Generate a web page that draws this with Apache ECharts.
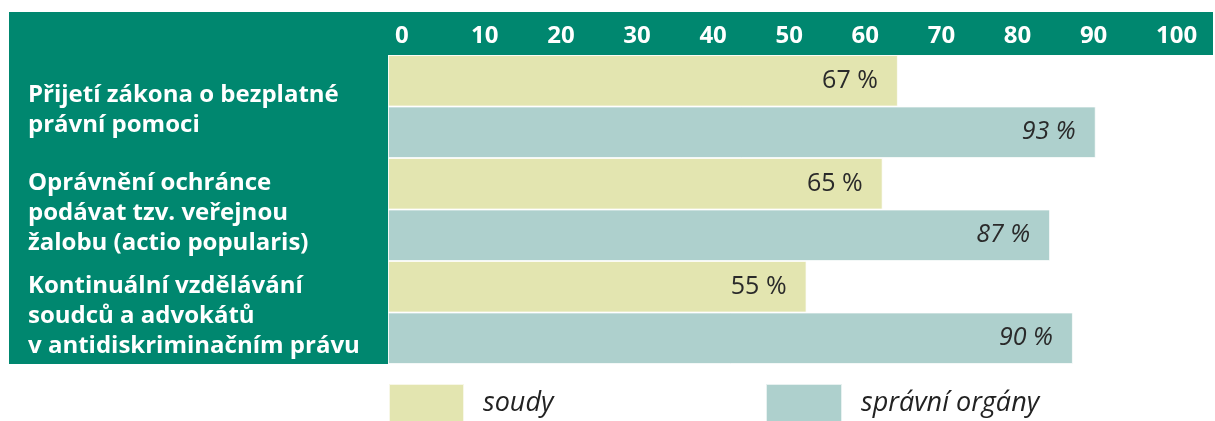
<!DOCTYPE html>
<html>
<head>
<meta charset="utf-8">
<script src="https://cdn.jsdelivr.net/npm/echarts@6/dist/echarts.min.js"></script>
<style>html,body{margin:0;padding:0;background:#fff}#c{width:1215px;height:421px}</style>
</head>
<body>
<div id="c"></div>
<script>
const categories = [
  'Přijetí zákona o bezplatné\nprávní pomoci',
  'Oprávnění ochránce\npodávat tzv. veřejnou\nžalobu (actio popularis)',
  'Kontinuální vzdělávání\nsoudců a advokátů\nv antidiskriminačním právu'
];
const soudy = [67, 65, 55];
const spravniOrgany = [93, 87, 90];
const seriesNames = ['soudy', 'správní orgány'];

const TEAL = '#00876f';
const YELLOW = '#e3e5b0';
const BLUE = '#aed0cd';
const FONT = '"Open Sans"';

const chart = echarts.init(document.getElementById('c'), null, {renderer: 'canvas'});
chart.setOption({
  animation: false,
  graphic: {
    elements: [
      {type: 'rect', z: -10, shape: {x: 9, y: 12, width: 1204, height: 43}, style: {fill: TEAL}, silent: true},
      {type: 'rect', z: -10, shape: {x: 9, y: 12, width: 379, height: 352}, style: {fill: TEAL}, silent: true}
    ]
  },
  grid: {left: 388, right: 66, top: 55, bottom: 57, containLabel: false},
  xAxis: {
    type: 'value', position: 'top', min: 0, max: 100, interval: 10,
    axisLine: {show: false}, axisTick: {show: false}, splitLine: {show: false},
    axisLabel: {
      color: '#fff', fontFamily: FONT, fontWeight: 'bold', fontSize: 24,
      align: 'left', padding: [0, 0, 0, 7], margin: 7
    }
  },
  yAxis: {
    type: 'category', data: categories, inverse: true,
    axisLine: {show: false}, axisTick: {show: false},
    axisLabel: {
      align: 'left', margin: 360,
      formatter: function (v) {
        return '{s| }\n' + v.split('\n').map(function (l) { return '{t|' + l + '}'; }).join('\n');
      },
      rich: {
        s: {fontSize: 1, lineHeight: 8},
        t: {color: '#fff', fontFamily: FONT, fontWeight: 'bold', fontSize: 24, lineHeight: 30}
      }
    }
  },
  legend: [
    {data: [seriesNames[0]], left: 388, top: 383, padding: 0, itemWidth: 75, itemHeight: 38, icon: 'rect',
     textStyle: {fontFamily: FONT, fontStyle: 'italic', fontSize: 27, color: '#222', padding: [0, 0, 0, 14]}},
    {data: [seriesNames[1]], left: 765, top: 383, padding: 0, itemWidth: 76, itemHeight: 38, icon: 'rect',
     textStyle: {fontFamily: FONT, fontStyle: 'italic', fontSize: 27, color: '#222', padding: [0, 0, 0, 14]}}
  ],
  series: [
    {
      name: seriesNames[0], type: 'bar', data: soudy, barGap: '0%', barCategoryGap: '0%',
      itemStyle: {color: YELLOW, borderColor: 'rgba(255,255,255,0.7)', borderWidth: 1},
      label: {show: true, position: 'insideRight', distance: 20, formatter: '{c} %',
              fontFamily: FONT, fontSize: 25, color: '#2a2a2a'}
    },
    {
      name: seriesNames[1], type: 'bar', data: spravniOrgany, barGap: '0%', barCategoryGap: '0%',
      itemStyle: {color: BLUE, borderColor: 'rgba(255,255,255,0.7)', borderWidth: 1},
      label: {show: true, position: 'insideRight', distance: 20, formatter: '{c} %',
              fontFamily: FONT, fontStyle: 'italic', fontSize: 25, color: '#2a2a2a'}
    }
  ]
});
</script>
</body>
</html>
